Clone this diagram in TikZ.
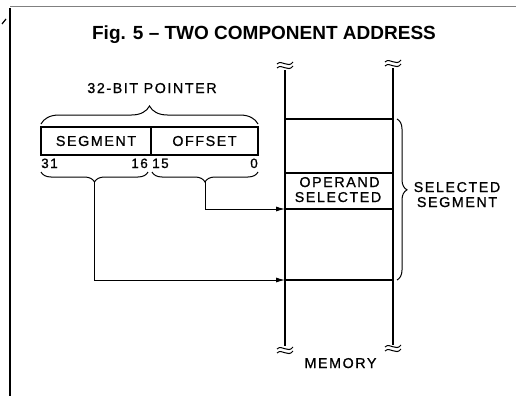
\documentclass[tikz,border=0pt]{standalone}
\usepackage{fontspec}
\setmainfont{Liberation Sans}
\newfontfamily\lblfont[LetterSpace=11,FakeBold=0.9]{Liberation Sans}
\usetikzlibrary{arrows.meta,decorations.pathreplacing}
\begin{document}
\begin{tikzpicture}[x=1pt,y=-1pt,
  lbl/.style={font=\lblfont\fontsize{14.3}{16}\selectfont, inner sep=0pt},
  numlbl/.style={font=\lblfont\fontsize{13.5}{15}\selectfont, inner sep=0pt},
  ttl/.style={font=\bfseries\fontsize{19}{22}\selectfont, inner sep=0pt},
  fieldbox/.style={draw, line width=1.8pt, inner sep=0pt, minimum height=28pt, font=\lblfont\fontsize{14.3}{16}\selectfont},
  memline/.style={line width=2.4pt},
  cellline/.style={line width=2pt},
  conn/.style={line width=1pt},
  arr/.style={conn,-{Latex[length=9pt,width=5pt]}},
  brc/.style={decorate,decoration={brace,amplitude=#1},line width=1pt},
  brk/.pic={\draw[line width=1pt] (-8,-1) .. controls (-3,-6) and (3,4) .. (8,-3);
            \draw[line width=1pt] (-8,3) .. controls (-3,-2) and (3,8) .. (8,1);}
]
\useasboundingbox (0,0) rectangle (516,396);
% frame remnants
\draw[line width=0.6pt, gray] (10,6) -- (516,6);
\draw[line width=1.5pt] (10,8) -- (10,396);
\draw[line width=1.2pt] (2,24) -- (6,19);

% title
\node[ttl, anchor=base] (title) at (264,39.5) {Fig. 5 -- TWO COMPONENT ADDRESS};

% pointer
\node[lbl, anchor=base] (ptr) at (152,93) {32-BIT POINTER};
\node[fieldbox, minimum width=110pt] (seg) at (96,141) {SEGMENT};
\node[fieldbox, minimum width=107pt] (off) at (204.5,141) {OFFSET};
\node[numlbl, anchor=base west] (b31) at (41,168) {31};
\node[numlbl, anchor=base east] (b16) at (148,168) {16};
\node[numlbl, anchor=base west] (b15) at (152,168) {15};
\node[numlbl, anchor=base east] (b0) at (258,168) {0};

\draw[brc=18pt] (41,124) -- (258,124);
\draw[brc=10pt] (148,172) -- (41,172);
\draw[brc=10pt] (258,172) -- (152,172);
\coordinate (segtip) at (94.5,182);
\coordinate (offtip) at (205,182);

% memory
\coordinate (LT) at (285,70);
\coordinate (LB) at (285,346);
\coordinate (RT) at (393,68);
\coordinate (RB) at (393,345);
\draw[memline] (LT) -- (LB);
\draw[memline] (RT) -- (RB);
\pic at (285,65) {brk};
\pic at (393,63) {brk};
\pic at (285,350) {brk};
\pic at (393,348) {brk};
\coordinate (c1l) at (285,119); \coordinate (c1r) at (393,119);
\coordinate (c2l) at (285,173); \coordinate (c2r) at (393,173);
\coordinate (memA) at (285,209); \coordinate (c3r) at (393,209);
\coordinate (memB) at (285,280); \coordinate (c4r) at (393,280);
\draw[cellline] (c1l) -- (c1r);
\draw[cellline] (c2l) -- (c2r);
\draw[cellline] (memA) -- (c3r);
\draw[cellline] (memB) -- (c4r);
\node[lbl, anchor=base] (op1) at (339.5,187) {OPERAND};
\node[lbl, anchor=base] (op2) at (338,202) {SELECTED};
\node[lbl, anchor=base] (mem) at (340.5,368) {MEMORY};

\draw[brc=10pt, decoration={aspect=0.44}] (397,119) -- (397,280);
\node[lbl, anchor=base] (ss1) at (457,192) {SELECTED};
\node[lbl, anchor=base] (ss2) at (457,207) {SEGMENT};

% connectors
\draw[arr] (offtip) |- (memA);
\draw[arr] (segtip) |- (memB);
\end{tikzpicture}
\end{document}
